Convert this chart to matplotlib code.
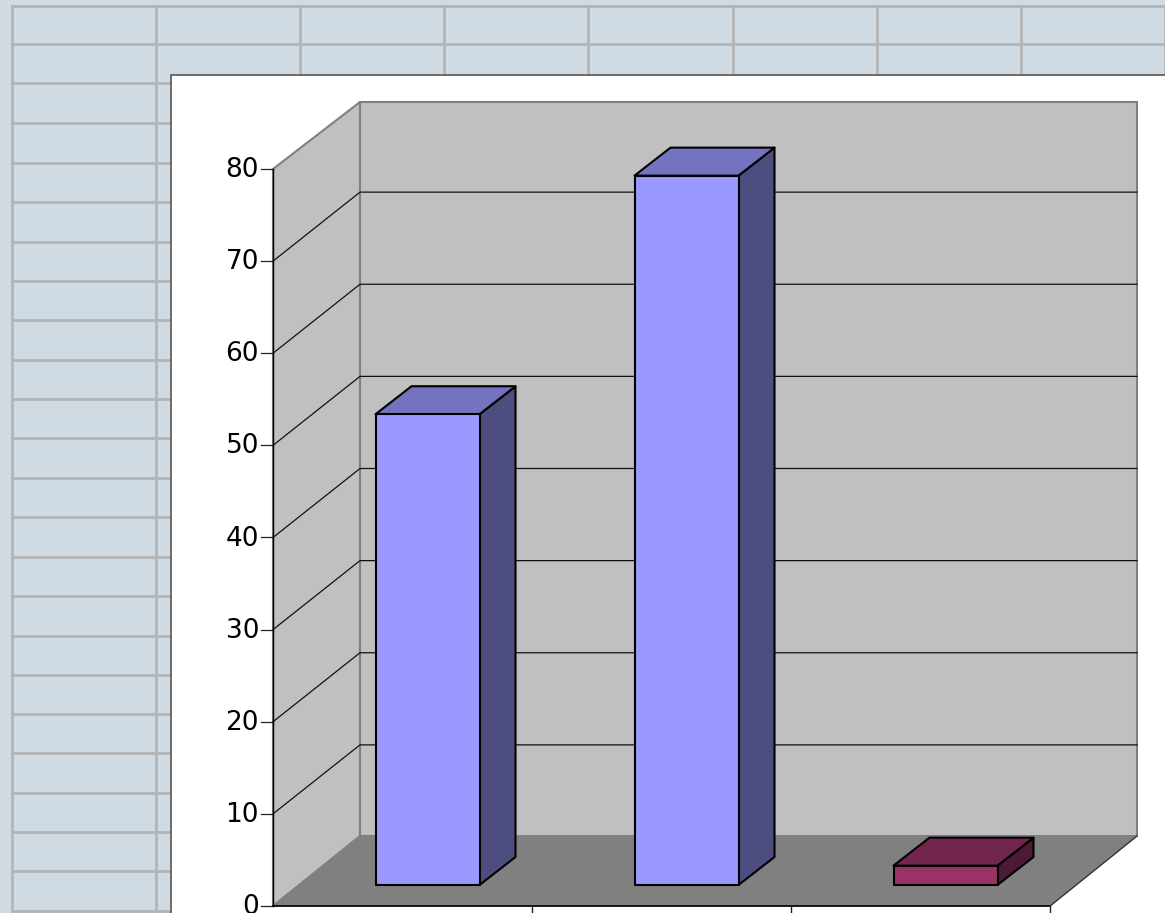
import matplotlib
matplotlib.use('Agg')
import matplotlib.pyplot as plt
from matplotlib.patches import Polygon, Rectangle

# chart data
y_ticks = [0, 10, 20, 30, 40, 50, 60, 70, 80]
categories = [0, 1, 2]
values = [51.1, 77, 2.1]
front_colors = ['#9999ff', '#9999ff', '#993366']
top_colors = ['#7373bf', '#7373bf', '#73264d']
side_colors = ['#4d4d80', '#4d4d80', '#4d1a33']

# spreadsheet cells behind the chart
sheet_cols = [12, 156, 300, 444, 588, 733, 877, 1021, 1165]
sheet_rows = [6, 44, 83, 123, 163, 202, 242, 281, 320, 360, 399, 438, 478, 517,
              557, 596, 636, 675, 714, 753, 793, 832, 871, 911]

# pixel layout of the 3d box
x0, y0 = 273, 906
y80 = 169
cat_w = 259
dx, dy = 87, -69
top_dy = -67
floor_dy = -70
bar_w = 104
bar_dx, bar_dy = 25, -21
bar_dx2, bar_dy2 = 36, -28


def ypix(v):
    return y0 - (y0 - y80) * v / 80


x1 = x0 + cat_w * len(categories)

fig = plt.figure(figsize=(11.65, 9.13), dpi=100, facecolor='#d0dae3')
ax = fig.add_axes([0, 0, 1, 1])
ax.set_xlim(0, 1165)
ax.set_ylim(913, 0)
ax.axis('off')

# sheet grid
for x in sheet_cols:
    ax.plot([x, x], [sheet_rows[0], 913], color='#b4b4b4', lw=2, zorder=1)
for y in sheet_rows:
    ax.plot([sheet_cols[0], 1165], [y, y], color='#b4b4b4', lw=2, zorder=1)

# chart area
ax.add_patch(Rectangle((171, 75), 1000, 850, fc='white', ec='#555555', lw=1.2, zorder=2))

# walls and floor
top = ypix(y_ticks[-1])
ax.add_patch(Polygon([(x0, top), (x0 + dx, top + top_dy), (x0 + dx, y0 + floor_dy), (x0, y0)],
                     fc='#c0c0c0', ec='#808080', lw=1.5, zorder=3))
ax.add_patch(Polygon([(x0 + dx, top + top_dy), (x1 + dx, top + top_dy), (x1 + dx, y0 + floor_dy), (x0 + dx, y0 + floor_dy)],
                     fc='#c0c0c0', ec='#808080', lw=1.5, zorder=3))
ax.add_patch(Polygon([(x0, y0), (x0 + dx, y0 + floor_dy), (x1 + dx, y0 + floor_dy), (x1, y0)],
                     fc='#808080', ec='#808080', lw=1, zorder=4))

# gridlines and tick labels
for t in y_ticks[1:-1]:
    y = ypix(t)
    ax.plot([x0, x0 + dx, x1 + dx], [y, y + dy, y + dy], color='#111111', lw=0.9, zorder=4)
for t in y_ticks:
    y = ypix(t)
    ax.plot([x0 - 12, x0], [y, y], color='#222222', lw=0.9, zorder=5)
    ax.text(x0 - 14, y + 1, str(t), ha='right', va='center', fontsize=19,
            family='DejaVu Sans', color='black', zorder=6)

# axis lines
ax.plot([x0, x0], [top, y0], color='black', lw=1, zorder=5)
ax.plot([x0, x1], [y0, y0], color='black', lw=1.2, zorder=5)
ax.plot([x1, x1 + dx], [y0, y0 + floor_dy], color='#333333', lw=0.9, zorder=5)
for i in range(1, len(categories) + 1):
    ax.plot([x0 + i * cat_w] * 2, [y0, 913], color='#222222', lw=1, zorder=5)

# bars
for c, v, fc, tc, sc in zip(categories, values, front_colors, top_colors, side_colors):
    left = x0 + (c + 0.5) * cat_w + bar_dx - bar_w / 2
    right = left + bar_w
    base = y0 + bar_dy
    head = base - (y0 - ypix(v))
    ax.add_patch(Polygon([(right, head), (right + bar_dx2, head + bar_dy2),
                          (right + bar_dx2, base + bar_dy2), (right, base)],
                         fc=sc, ec='black', lw=1.5, joinstyle='round', zorder=7))
    ax.add_patch(Polygon([(left, head), (left + bar_dx2, head + bar_dy2),
                          (right + bar_dx2, head + bar_dy2), (right, head)],
                         fc=tc, ec='black', lw=1.5, joinstyle='round', zorder=7))
    ax.add_patch(Polygon([(left, head), (right, head), (right, base), (left, base)],
                         fc=fc, ec='black', lw=1.5, joinstyle='round', zorder=8))

fig.savefig('out.png', dpi=100, facecolor=fig.get_facecolor())
